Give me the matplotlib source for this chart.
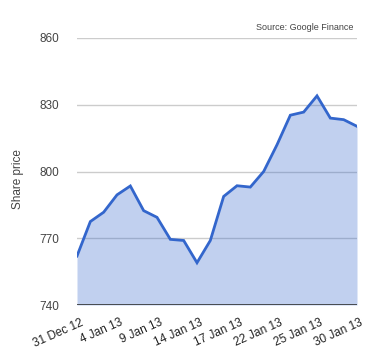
import matplotlib
matplotlib.use("Agg")
import matplotlib.pyplot as plt
import matplotlib.transforms as mtransforms

prices = [762, 777.5, 781.7, 789.5, 793.5, 782.4, 779.4, 769.5, 769, 759, 769,
          788.8, 793.6, 793, 800, 812, 825.3, 826.7, 834, 824, 823.3, 820.3]
tick_idx = [0, 3, 6, 9, 12, 15, 18, 21]
tick_labels = ["31 Dec 12", "4 Jan 13", "9 Jan 13", "14 Jan 13", "17 Jan 13",
               "22 Jan 13", "25 Jan 13", "30 Jan 13"]
y_ticks = [740, 770, 800, 830, 860]

plt.rcParams['font.family'] = ['Liberation Sans', 'DejaVu Sans']

fig = plt.figure(figsize=(3.8, 3.6), dpi=100)
ax = fig.add_axes([77/380, 1 - 305/360, 280/380, 267/360])

x = list(range(len(prices)))
ax.fill_between(x, 740, prices, color="#3366cc", alpha=0.3, linewidth=0, zorder=2)
ax.plot(x, prices, color="#3366cc", linewidth=2, zorder=3, solid_joinstyle='miter')

ax.set_xlim(0, len(prices) - 1)
ax.set_ylim(740, 860)
ax.set_yticks(y_ticks)
ax.set_yticklabels([str(v) for v in y_ticks], fontsize=8.5, color="#444444")
ax.set_xticks(tick_idx)
ax.set_xticklabels(tick_labels, rotation=24, ha="right", rotation_mode="anchor",
                   fontsize=8.5, color="#222222")
ax.tick_params(axis="both", length=0)
ax.tick_params(axis="y", pad=13)
ax.tick_params(axis="x", pad=8.5)
offset = mtransforms.ScaledTranslation(3 / 100, 0, fig.dpi_scale_trans)
for lbl in ax.get_xticklabels():
    lbl.set_transform(lbl.get_transform() + offset)

for v in y_ticks[1:]:
    ax.axhline(v, color="#cccccc", linewidth=1, zorder=1)
ax.axhline(740, color="#333333", linewidth=1.2, zorder=4)

for s in ax.spines.values():
    s.set_visible(False)

ax.set_ylabel("Share price", fontsize=8.5, color="#444444")
ax.yaxis.set_label_coords(-(77 - 24) / 280, (305 - 179) / 267)
fig.text(353/380, 1 - 28/360, "Source: Google Finance", fontsize=6.5,
         color="#444444", ha="right", va="center")

fig.savefig("out.png", dpi=100)
